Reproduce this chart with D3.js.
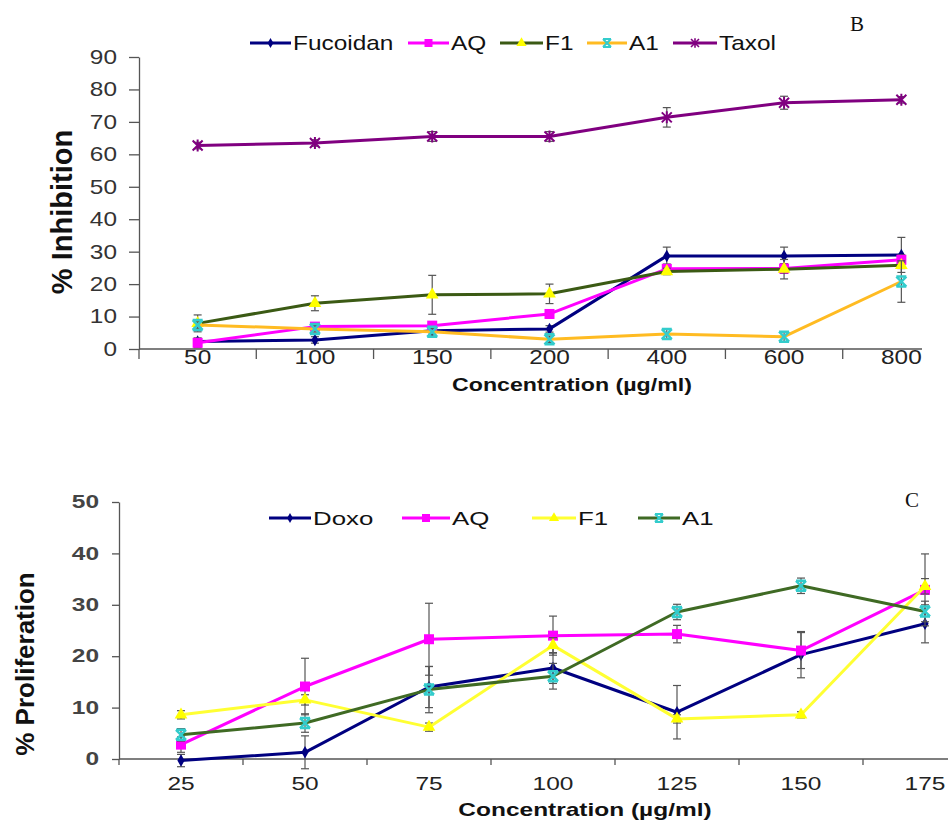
<!DOCTYPE html>
<html lang="en">
<head>
	<meta charset="utf-8">
	<title>Inhibition and proliferation</title>
	<script type="text/javascript" src="https://cdn.jsdelivr.net/npm/d3@7"></script>
	<style>
		body { margin: 0; background: white; font-family: "Liberation Sans", Arial, sans-serif; }
		svg { display: block; }
	</style>
</head>
<body>
<svg id="chart" width="948" height="823"></svg>
<script type="text/javascript">

// panel B - % inhibition
var topCats = ["50", "100", "150", "200", "400", "600", "800"]
var fucoidan = [2.3, 2.8, 5.6, 6.2, 28.7, 28.7, 29.0]
var fucoidanErr = [1, 1, 1, 1, 2.7, 2.7, 5.4]
var aqB = [1.9, 6.9, 7.2, 10.8, 24.7, 24.8, 27.5]
var aqBErr = [1.5, 1.2, 1.2, 1.2, 1.5, 1.5, 1.5]
var f1B = [7.9, 14.1, 16.7, 17.0, 23.9, 24.6, 25.8]
var f1BErr = [2.6, 2.3, 6, 3, 1, 3, 1]
var a1B = [7.4, 6.2, 5.3, 3.0, 4.6, 3.8, 20.8]
var a1BErr = [1, 1, 1, 1, 1.5, 1.5, 6.4]
var taxol = [62.7, 63.5, 65.5, 65.5, 71.4, 75.9, 76.8]
var taxolErr = [1, 1, 1.5, 1.5, 3, 2, 1]
var topTicks = [0, 10, 20, 30, 40, 50, 60, 70, 80, 90]

// panel C - % proliferation
var botCats = ["25", "50", "75", "100", "125", "150", "175"]
var doxo = [-0.3, 1.3, 14.0, 17.7, 9.1, 20.3, 26.3]
var doxoErr = [1.2, 3.2, 4, 3, 5.2, 4.5, 3.7]
var aqC = [2.8, 14.1, 23.3, 24.0, 24.3, 21.1, 32.9]
var aqCErr = [1.5, 5.5, 7, 3.8, 1.7, 3.5, 7]
var f1C = [8.6, 11.5, 6.2, 22.1, 7.8, 8.6, 33.6]
var f1CErr = [0.8, 1, 0.8, 1.5, 0.8, 0.6, 1.5]
var a1C = [4.7, 7.0, 13.5, 16.1, 28.6, 33.7, 28.7]
var a1CErr = [1.2, 1.8, 4.5, 2.5, 1.5, 1.5, 2]
var botTicks = [0, 10, 20, 30, 40, 50]

var svg = d3.select("#chart")

// marker shapes (excel style)
var markers = {
	diamond: function(g, c) { g.append("path").attr("d", d3.symbol(d3.symbolDiamond, 45)()).attr("fill", c) },
	square: function(g, c) { g.append("rect").attr("x", -5).attr("y", -5).attr("width", 10).attr("height", 10).attr("fill", c) },
	triangle: function(g, c) { g.append("path").attr("d", d3.symbol(d3.symbolTriangle, 70)()).attr("fill", c) },
	cross: function(g, c) { g.append("path").attr("d", "M-5,-5L5,5M-5,5L5,-5M-5,-5L5,-5M-5,5L5,5").attr("stroke", c).attr("stroke-width", 2.5).attr("fill", "none") },
	star: function(g, c) { g.append("path").attr("d", "M-5,-5L5,5M-5,5L5,-5M0,-6L0,6").attr("stroke", c).attr("stroke-width", 2).attr("fill", "none") }
}

// text is stretched sideways in the original figure
function addText(g, x, y, sx, txt, size, weight, anchor, col) {
	return g.append("text").attr("transform", "translate(" + x + "," + y + ") scale(" + sx + ",1)")
		.attr("text-anchor", anchor || "start").style("font-size", size + "px")
		.style("font-weight", weight || "normal").attr("fill", col || "#111").text(txt)
}

function drawPanel(opt) {
	var x = d3.scaleBand().domain(opt.cats).range(opt.xr).padding(0)
	var y = d3.scaleLinear().domain(opt.yd).range(opt.yr)
	var g = svg.append("g")
	var cx = function(i) { return x(opt.cats[i]) + x.bandwidth() / 2 }
	var sx = opt.sx

	// y axis
	var ya = d3.axisLeft(y).tickValues(opt.yticks).tickSize(opt.ytickLen).tickSizeOuter(0)
	var yg = g.append("g").attr("transform", "translate(" + opt.xr[0] + ",0)").call(ya)
	yg.select(".domain").attr("stroke", "#555").attr("stroke-width", 1.3)
	yg.selectAll(".tick line").attr("stroke", "#555").attr("stroke-width", 1.3)
	yg.selectAll(".tick text").attr("x", 0)
		.attr("transform", "translate(" + (-opt.ylabOff) + ",0) scale(" + sx + ",1)")
		.style("font-size", opt.yfont + "px").style("font-family", "'Liberation Sans', Arial, sans-serif")
		.style("font-weight", opt.ybold ? "bold" : "normal").attr("fill", opt.ytickCol)

	// x axis : line + ticks between categories
	g.append("line").attr("x1", opt.xr[0]).attr("x2", opt.xEnd).attr("y1", y(0)).attr("y2", y(0))
		.attr("stroke", "#555").attr("stroke-width", 1.3)
	g.selectAll(".xtick").data(opt.cats).enter().append("line")
		.attr("x1", function(d) { return x(d) }).attr("x2", function(d) { return x(d) })
		.attr("y1", y(0)).attr("y2", y(0) + opt.xtickLen).attr("stroke", "#555").attr("stroke-width", 1.3)
	opt.cats.forEach(function(c, i) {
		addText(g, cx(i), opt.xlabY, sx, c, opt.xfont, "normal", "middle", "#222")
	})

	// axis titles
	addText(g, opt.xtitle[0], opt.xtitle[1], sx, "Concentration (µg/ml)", opt.titleFont, "bold", "middle")
	g.append("text").attr("transform", "translate(" + opt.ytitle[0] + "," + opt.ytitle[1] + ") rotate(-90)")
		.attr("text-anchor", "middle").attr("dominant-baseline", "central")
		.style("font-size", opt.ytitleFont + "px").style("font-weight", "bold").attr("fill", "#111")
		.text(opt.ylabel)

	// panel letter
	g.append("text").attr("x", opt.letter[0]).attr("y", opt.letter[1])
		.style("font-family", "'Liberation Serif', serif").style("font-size", "21px").attr("fill", "#111")
		.text(opt.letter[2])

	var line = d3.line().x(function(d, i) { return cx(i) }).y(function(d) { return y(d) })

	opt.series.forEach(function(s) {
		var sg = g.append("g")
		// error bars
		s.values.forEach(function(v, i) {
			var e = s.err[i]
			var eb = sg.append("g").attr("stroke", "#555").attr("stroke-width", 1.2)
			eb.append("line").attr("x1", cx(i)).attr("x2", cx(i)).attr("y1", y(v - e)).attr("y2", y(v + e))
			eb.append("line").attr("x1", cx(i) - 4).attr("x2", cx(i) + 4).attr("y1", y(v - e)).attr("y2", y(v - e))
			eb.append("line").attr("x1", cx(i) - 4).attr("x2", cx(i) + 4).attr("y1", y(v + e)).attr("y2", y(v + e))
		})
		sg.append("path").datum(s.values).attr("d", line).attr("fill", "none")
			.attr("stroke", s.line).attr("stroke-width", 3).attr("stroke-linejoin", "round")
		s.values.forEach(function(v, i) {
			var mg = sg.append("g").attr("transform", "translate(" + cx(i) + "," + y(v) + ")")
			markers[s.marker](mg, s.mcol)
		})
	})

	// legend
	opt.series.forEach(function(s, i) {
		var lx = opt.legend[i][0], len = opt.legend[i][1], ly = opt.legendY
		var lg = g.append("g")
		lg.append("line").attr("x1", lx).attr("x2", lx + len).attr("y1", ly).attr("y2", ly)
			.attr("stroke", s.line).attr("stroke-width", 3)
		var mg = lg.append("g").attr("transform", "translate(" + (lx + len / 2) + "," + ly + ") scale(0.8)")
		markers[s.marker](mg, s.mcol)
		addText(lg, lx + len + 2, ly + opt.legendFont * 0.36, sx, s.name, opt.legendFont, "normal", "start")
	})
}

drawPanel({
	cats: topCats, xr: [139, 960], xEnd: 922, yd: [0, 90], yr: [349, 57], yticks: topTicks, sx: 1.22,
	ytickLen: 10, ylabOff: 22, xtickLen: 10, yfont: 20, ybold: false, ytickCol: "#333", xfont: 20, xlabY: 364,
	xtitle: [572, 391], titleFont: 19, ytitle: [62, 212], ytitleFont: 29, ylabel: "% Inhibition",
	letter: [850, 31, "B"], legendY: 43, legendFont: 20,
	legend: [[250, 41], [408, 41], [500, 43], [587, 40], [673, 44]],
	series: [
		{ name: "Fucoidan", values: fucoidan, err: fucoidanErr, line: "#000080", marker: "diamond", mcol: "#000080" },
		{ name: "AQ", values: aqB, err: aqBErr, line: "#ff00ff", marker: "square", mcol: "#ff00ff" },
		{ name: "F1", values: f1B, err: f1BErr, line: "#3b5a14", marker: "triangle", mcol: "#ffff00" },
		{ name: "A1", values: a1B, err: a1BErr, line: "#ffbb22", marker: "cross", mcol: "#33cccc" },
		{ name: "Taxol", values: taxol, err: taxolErr, line: "#800080", marker: "star", mcol: "#800080" }
	]
})

drawPanel({
	cats: botCats, xr: [119, 987], xEnd: 948, yd: [0, 50], yr: [759, 502], yticks: botTicks, sx: 1.36,
	ytickLen: 7, ylabOff: 20, xtickLen: 6, yfont: 18, ybold: true, ytickCol: "#444", xfont: 18, xlabY: 790,
	xtitle: [585, 816], titleFont: 18, ytitle: [25, 664], ytitleFont: 26, ylabel: "% Proliferation",
	letter: [905, 507, "C"], legendY: 518, legendFont: 19,
	legend: [[269, 42], [402, 48], [532, 44], [638, 42]],
	series: [
		{ name: "Doxo", values: doxo, err: doxoErr, line: "#000080", marker: "diamond", mcol: "#000080" },
		{ name: "AQ", values: aqC, err: aqCErr, line: "#ff00ff", marker: "square", mcol: "#ff00ff" },
		{ name: "F1", values: f1C, err: f1CErr, line: "#ffff33", marker: "triangle", mcol: "#ffff00" },
		{ name: "A1", values: a1C, err: a1CErr, line: "#3f6a24", marker: "cross", mcol: "#33cccc" }
	]
})

</script>
</body>
</html>
